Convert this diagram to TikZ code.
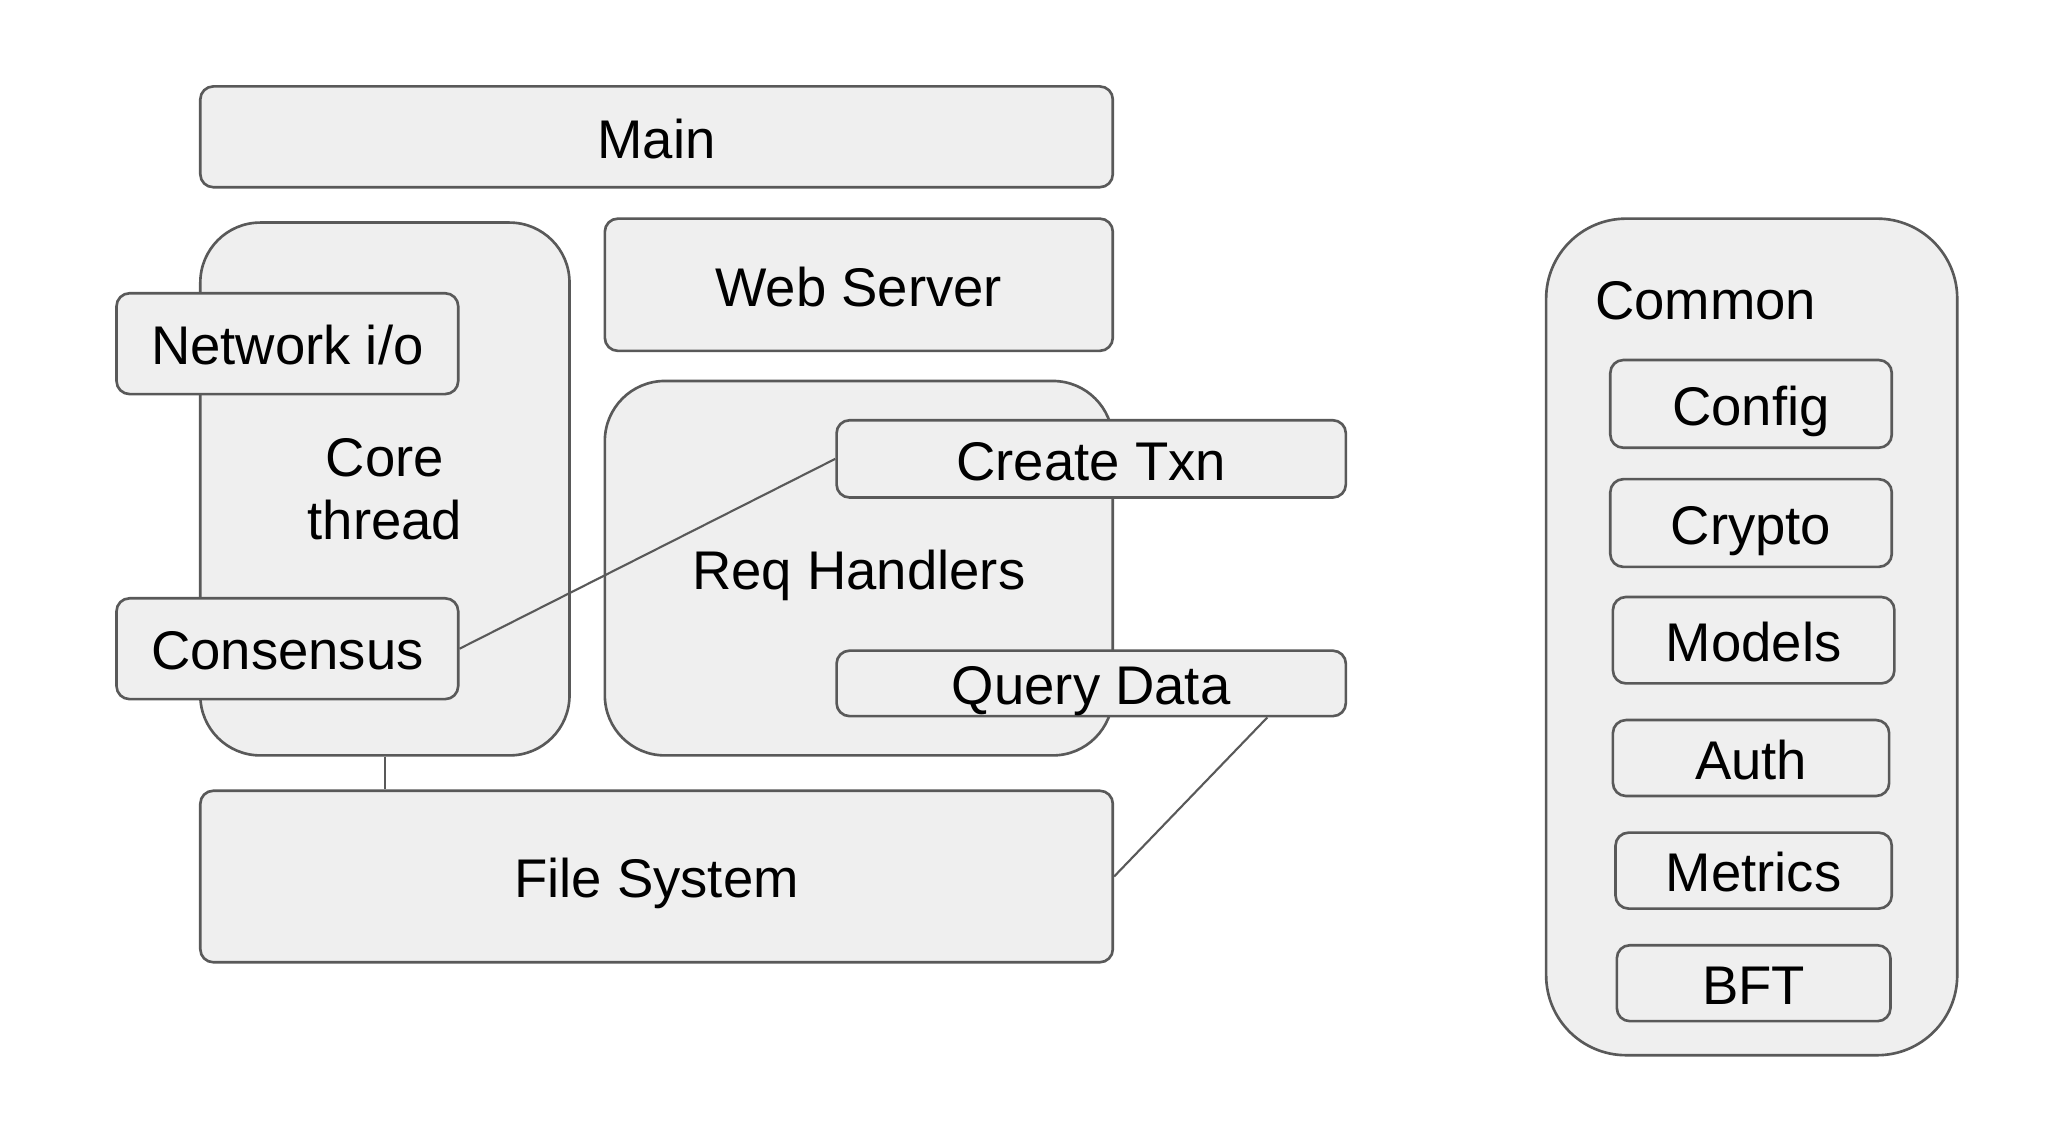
\documentclass[tikz,border=0pt]{standalone}
\usepackage{fontspec}
\setmainfont{Liberation Sans}
\usetikzlibrary{fit,calc}
\definecolor{boxfill}{HTML}{EFEFEF}
\definecolor{boxline}{HTML}{595959}
\begin{document}
\begin{tikzpicture}[x=0.013092cm,y=-0.013092cm,
  box/.style={draw=boxline, fill=boxfill, line width=0.75pt, rounded corners=0.13cm, inner sep=0pt},
  bigbox/.style={box, rounded corners=0.6cm},
  link/.style={draw=boxline, line width=0.6pt},
  txt/.style={inner sep=0pt, font=\fontsize{15.5}{18}\selectfont, align=center},
  lbl/.style={txt, text height=11.1pt, text depth=0pt, yshift=-0.5pt}]
\useasboundingbox[fill=white] (0,0) rectangle (1567.4,875.3);
% main column
\node[box, fit={(153,66) (850,143)}] (main) {};
\node[lbl] (mainlbl) at (main.center) {Main};
\node[bigbox, fit={(153,170) (435,577)}] (core) {};
\node[txt] (corelbl) at (core.center) {Core\\thread};
\node[box, fit={(89,224) (350,301)}] (net) {};
\node[lbl] (netlbl) at (net.center) {Network i/o};
\node[box, fit={(89,457) (350,534)}] (cons) {};
\node[lbl] (conslbl) at (cons.center) {Consensus};
\node[box, fit={(462,167) (850,268)}] (web) {};
\node[lbl] (weblbl) at (web.center) {Web Server};
\node[bigbox, fit={(462,291) (850,577)}] (req) {};
\node[lbl] (reqlbl) at (req.center) {Req Handlers};
\node[box, fit={(639,321) (1028,380)}] (ctxn) {};
\node[lbl] (ctxnlbl) at (ctxn.center) {Create Txn};
\node[box, fit={(639,497) (1028,547)}] (qd) {};
\node[lbl] (qdlbl) at (qd.center) {Query Data};
\node[box, fit={(153,604) (850,735)}] (fs) {};
\node[lbl] (fslbl) at (fs.center) {File System};
% common
\node[bigbox, rounded corners=0.8cm, fit={(1181,167) (1495,806)}] (common) {};
\node[txt, anchor=base west] (commonlbl) at (1218,244) {Common};
\node[box, fit={(1230,275) (1445,342)}] (config) {};
\node[lbl] (configlbl) at (config.center) {Config};
\node[box, fit={(1230,366) (1445,433)}] (crypto) {};
\node[lbl] (cryptolbl) at (crypto.center) {Crypto};
\node[box, fit={(1232,456) (1447,522)}] (models) {};
\node[lbl] (modelslbl) at (models.center) {Models};
\node[box, fit={(1232,550) (1443,608)}] (auth) {};
\node[lbl] (authlbl) at (auth.center) {Auth};
\node[box, fit={(1234,636) (1445,694)}] (metrics) {};
\node[lbl] (metricslbl) at (metrics.center) {Metrics};
\node[box, fit={(1235,722) (1444,780)}] (bft) {};
\node[lbl] (bftlbl) at (bft.center) {BFT};
% connectors
\draw[link] (cons.east) -- (ctxn.west);
\draw[link] (core.south) -- (core.south |- fs.north);
\coordinate (qdfoot) at ($(qd.south east)+(-61,0)$);
\draw[link] (qdfoot) -- (fs.east);
\end{tikzpicture}
\end{document}
